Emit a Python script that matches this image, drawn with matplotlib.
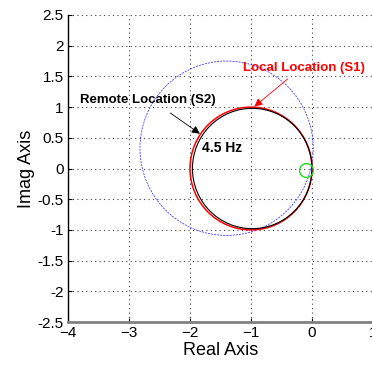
import matplotlib.pyplot as plt
from matplotlib.patches import Circle

plt.rcParams['font.family'] = ['Liberation Sans', 'DejaVu Sans']

# locus circles: (centre x, centre y, radius)
local_locus = (-1.00, 0.00, 1.00)     # S1, red
remote_locus = (-0.98, 0.00, 0.98)    # S2, black
wide_locus = (-1.40, 0.33, 1.42)      # blue dashed
marker_point = (-0.10, -0.03)         # green ring

x_ticks = [-4, -3, -2, -1, 0, 1]
y_ticks = [-2.5, -2, -1.5, -1, -0.5, 0, 0.5, 1, 1.5, 2, 2.5]

fig = plt.figure(figsize=(3.72, 3.65), dpi=100)
ax = fig.add_axes([68 / 372, 43 / 365, 305 / 372, 307 / 365])

ax.add_patch(Circle(wide_locus[:2], wide_locus[2], fill=False,
                    edgecolor='#4444ff', lw=0.6, ls=(0, (2.5, 1.2))))
ax.add_patch(Circle(local_locus[:2], local_locus[2], fill=False,
                    edgecolor='red', lw=1.1))
ax.add_patch(Circle(remote_locus[:2], remote_locus[2], fill=False,
                    edgecolor='black', lw=0.8))
ax.plot(*marker_point, 'o', mfc='none', mec='#22dd22', ms=10, mew=1)

# arrows and labels
ax.annotate('', xy=(-0.98, 0.98), xytext=(-0.36, 1.49),
            arrowprops=dict(arrowstyle='-|>', color='red', lw=0.6,
                            mutation_scale=12))
ax.text(-0.13, 1.635, 'Local Location (S1)', color='red', fontsize=9.5,
        fontweight='bold', ha='center', va='center')
ax.annotate('', xy=(-1.80, 0.54), xytext=(-2.36, 0.93),
            arrowprops=dict(arrowstyle='-|>', color='black', lw=0.6,
                            mutation_scale=12))
ax.text(-2.69, 1.11, 'Remote Location (S2)', color='black', fontsize=9.5,
        fontweight='bold', ha='center', va='center')
ax.text(-1.80, 0.33, '4.5 Hz', color='black', fontsize=10,
        fontweight='bold', ha='left', va='center')

ax.set_xlim(-4, 1)
ax.set_ylim(-2.5, 2.5)
ax.set_xticks(x_ticks)
ax.set_yticks(y_ticks)
ax.set_yticklabels([f'{v:g}' for v in y_ticks])
ax.tick_params(labelsize=11, direction='in', length=3, pad=3)
ax.grid(True, color='0.25', ls=(0, (1, 3)), lw=0.8)
ax.set_axisbelow(True)

ax.spines['top'].set_visible(False)
ax.spines['right'].set_visible(False)
ax.spines['left'].set_linewidth(1.0)
ax.spines['bottom'].set_color('0.5')
ax.spines['bottom'].set_linewidth(2.0)

ax.set_xlabel('Real Axis', fontsize=13, labelpad=1)
ax.set_ylabel('Imag Axis', fontsize=13, labelpad=2)

fig.savefig('out.png', dpi=100)
